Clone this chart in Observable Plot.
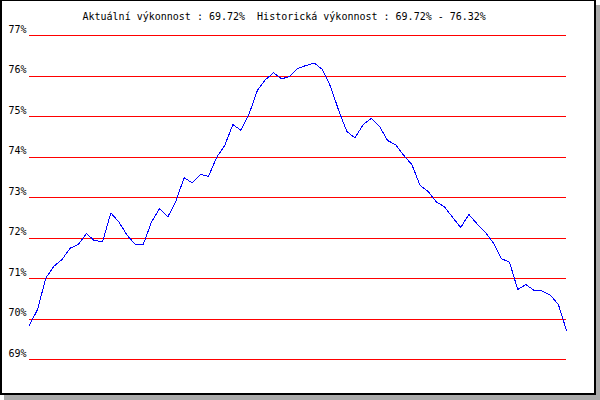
<!DOCTYPE html>
<html>
<head>
<meta charset="utf-8">
<script src="https://cdn.jsdelivr.net/npm/d3@7"></script>
<script src="https://cdn.jsdelivr.net/npm/@observablehq/plot@0.6"></script>
<style>
  html, body { margin: 0; padding: 0; background: #fff; }
  #box {
    position: absolute; left: 0; top: 0;
    width: 592px; height: 392px;
    border-style: solid; border-color: #000;
    border-width: 1px 2px 2px 2px;
    background: #fff;
    box-shadow: 4px 5px 0 0 #aaaaaa;
  }
  #box svg { display: block; white-space: pre; }
</style>
</head>
<body>
<div id="box"></div>
<script>
const yTicks = [69, 70, 71, 72, 73, 74, 75, 76, 77];
const performance = [
  69.85, 70.24, 71.01, 71.30, 71.47, 71.75, 71.84, 72.11, 71.93, 71.92,
  72.62, 72.39, 72.07, 71.84, 71.85, 72.40, 72.73, 72.52, 72.91, 73.49,
  73.36, 73.57, 73.52, 73.99, 74.29, 74.80, 74.66, 75.07, 75.64, 75.91,
  76.08, 75.93, 75.99, 76.19, 76.26, 76.32, 76.16, 75.74, 75.15, 74.63,
  74.47, 74.80, 74.95, 74.76, 74.41, 74.30, 74.04, 73.81, 73.30, 73.15,
  72.89, 72.77, 72.51, 72.26, 72.58, 72.35, 72.15, 71.88, 71.49, 71.40,
  70.73, 70.85, 70.71, 70.69, 70.59, 70.36, 69.72
];
const currentLabel = "Aktuální výkonnost";
const historyLabel = "Historická výkonnost";

const fmt = v => v.toFixed(2) + "%";
const current = performance[performance.length - 1];
const titleText = `${currentLabel} : ${fmt(current)}  ${historyLabel} : ${fmt(d3.min(performance))} - ${fmt(d3.max(performance))}`;

const data = performance.map((v, i) => ({i, v}));

const chart = Plot.plot({
  width: 592,
  height: 392,
  marginLeft: 27,
  marginRight: 28,
  marginTop: 34,
  marginBottom: 34,
  style: {fontFamily: "'DejaVu Sans Mono', monospace", fontSize: "10px", color: "#000", background: "#fff"},
  x: {domain: [0, performance.length - 1], axis: null},
  y: {domain: [69, 77], axis: null},
  marks: [
    Plot.ruleY(yTicks, {stroke: "#ff0000", strokeWidth: 1, shapeRendering: "crispEdges"}),
    Plot.axisY(yTicks, {tickSize: 0, tickPadding: 3, tickFormat: d => d + "%", dy: -6, fill: "#000", fontSize: 10, label: null}),
    Plot.line(data, {x: "i", y: "v", stroke: "#0000ff", strokeWidth: 1, shapeRendering: "crispEdges"}),
    Plot.text([titleText], {frameAnchor: "top-left", text: d => d, textAnchor: "start", dx: 53, dy: -23, fill: "#000", fontSize: 10})
  ]
});
document.getElementById("box").appendChild(chart);
</script>
</body>
</html>
